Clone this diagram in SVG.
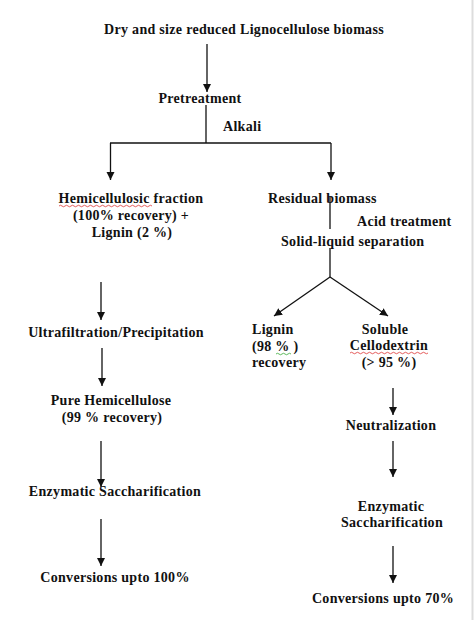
<svg xmlns="http://www.w3.org/2000/svg" width="474" height="628" viewBox="0 0 474 628">
<style>
text{font-family:"Liberation Serif","Times New Roman",serif;font-weight:bold;font-size:14px;letter-spacing:0.3px;fill:#111}
.m{text-anchor:middle}
.c{stroke:#111;stroke-width:1.3;fill:none}
.sq{fill:none;stroke-width:0.8}
</style>
<defs>
<marker id="ah" markerWidth="8" markerHeight="9" refX="8" refY="4" orient="auto" markerUnits="userSpaceOnUse">
<path d="M0,0 L8,4 L0,8 Z" fill="#111"/>
</marker>
</defs>
<rect width="474" height="628" fill="#fff"/>
<line x1="472.5" y1="0" x2="472.5" y2="620" stroke="#ddd" stroke-width="2"/>
<g id="connectors">
<line class="c" x1="207" y1="44" x2="207" y2="92" marker-end="url(#ah)"/>
<polyline class="c" points="206,105 206,143"/>
<polyline class="c" points="110,143 331,143"/>
<line class="c" x1="110.5" y1="143" x2="110.5" y2="180" marker-end="url(#ah)"/>
<line class="c" x1="331" y1="143" x2="331" y2="180" marker-end="url(#ah)"/>
<line class="c" x1="330" y1="196" x2="330" y2="229"/>
<line class="c" x1="330" y1="248" x2="330" y2="277"/>
<line class="c" x1="330" y1="277" x2="274" y2="316" marker-end="url(#ah)"/>
<line class="c" x1="330" y1="277" x2="388" y2="316" marker-end="url(#ah)"/>
<line class="c" x1="101" y1="282" x2="101" y2="320" marker-end="url(#ah)"/>
<line class="c" x1="102" y1="348" x2="102" y2="386" marker-end="url(#ah)"/>
<line class="c" x1="101" y1="441" x2="101" y2="487" marker-end="url(#ah)"/>
<line class="c" x1="101" y1="519" x2="101" y2="566" marker-end="url(#ah)"/>
<line class="c" x1="393" y1="388" x2="393" y2="415" marker-end="url(#ah)"/>
<line class="c" x1="393" y1="441" x2="393" y2="477" marker-end="url(#ah)"/>
<line class="c" x1="393" y1="546" x2="393" y2="583" marker-end="url(#ah)"/>
</g>
<g id="n-biomass"><text class="m" x="244" y="34">Dry and size reduced Lignocellulose biomass</text></g>
<g id="n-pretreatment"><text class="m" x="200" y="103">Pretreatment</text></g>
<g id="l-alkali"><text x="223" y="131">Alkali</text></g>
<g id="n-hemi-fraction">
<text class="m" x="131" y="203">Hemicellulosic fraction</text>
<text class="m" x="131" y="220">(100% recovery) +</text>
<text class="m" x="132" y="237">Lignin (2 %)</text>
<path class="sq" stroke="#d33" d="M59,206 q1.5,-1.5 3,0 t3,0 t3,0 t3,0 t3,0 t3,0 t3,0 t3,0 t3,0 t3,0 t3,0 t3,0 t3,0 t3,0 t3,0 t3,0 t3,0 t3,0 t3,0 t3,0 t3,0 t3,0 t3,0 t3,0 t3,0 t3,0 t3,0 t3,0 t3,0 t3,0 t3,0"/>
</g>
<g id="n-residual"><text x="268" y="203">Residual biomass</text></g>
<g id="l-acid"><text x="357" y="226">Acid treatment</text></g>
<g id="n-separation"><text x="281" y="246">Solid-liquid separation</text></g>
<g id="n-ultra"><text class="m" x="116" y="337">Ultrafiltration/Precipitation</text></g>
<g id="n-lignin">
<text x="252" y="334">Lignin</text>
<text x="252" y="351">(98 % )</text>
<text x="252" y="367">recovery</text>
<path class="sq" stroke="#3a3" d="M276,354 q1.5,-1.5 3,0 t3,0 t3,0 t3,0 t3,0"/>
</g>
<g id="n-cellodextrin">
<text class="m" x="385" y="334">Soluble</text>
<text class="m" x="389" y="350">Cellodextrin</text>
<text class="m" x="389" y="367">(&gt; 95 %)</text>
<path class="sq" stroke="#d33" d="M350,353 q1.5,-1.5 3,0 t3,0 t3,0 t3,0 t3,0 t3,0 t3,0 t3,0 t3,0 t3,0 t3,0 t3,0 t3,0 t3,0 t3,0 t3,0 t3,0 t3,0 t3,0 t3,0 t3,0 t3,0 t3,0 t3,0 t3,0 t3,0"/>
</g>
<g id="n-pure-hemi">
<text class="m" x="111" y="405">Pure Hemicellulose</text>
<text class="m" x="112" y="422">(99 % recovery)</text>
</g>
<g id="n-neutralization"><text class="m" x="391" y="430">Neutralization</text></g>
<g id="n-enz-left"><text class="m" x="115" y="496">Enzymatic Saccharification</text></g>
<g id="n-enz-right">
<text class="m" x="391" y="511">Enzymatic</text>
<text class="m" x="392" y="527">Saccharification</text>
</g>
<g id="n-conv-left"><text class="m" x="115" y="582">Conversions upto 100%</text></g>
<g id="n-conv-right"><text class="m" x="383" y="603">Conversions upto 70%</text></g>
</svg>
